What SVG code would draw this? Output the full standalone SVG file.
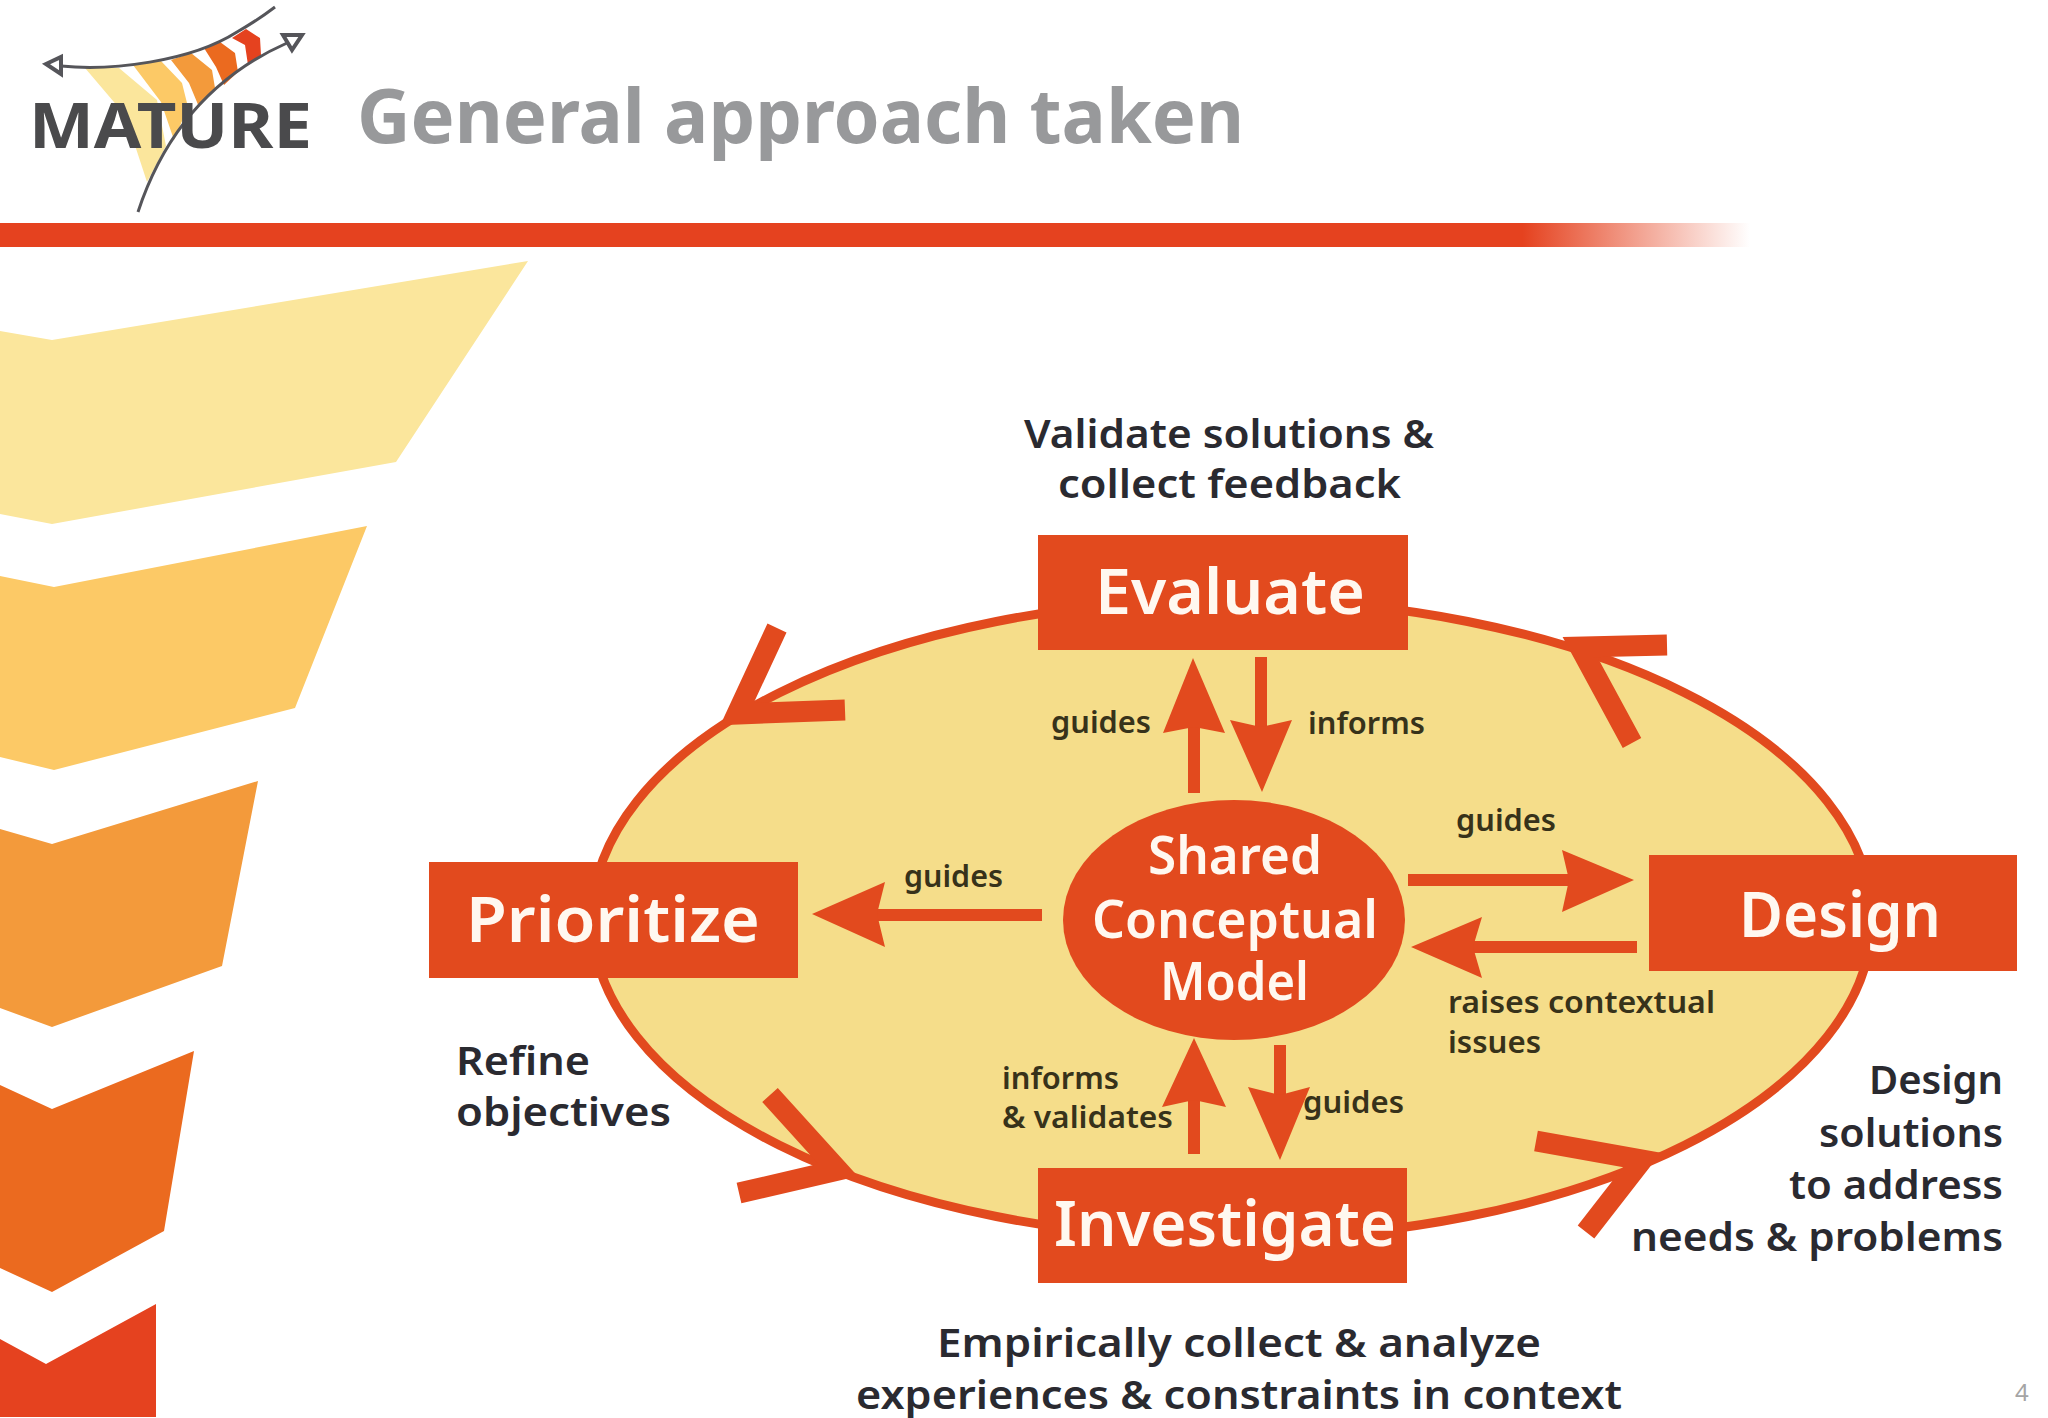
<svg xmlns="http://www.w3.org/2000/svg" width="2048" height="1418" viewBox="0 0 2048 1418">
<style>
text{font-family:"Noto Sans","DejaVu Sans",sans-serif}
.o{fill:#E24A1E}
.box{fill:#E24A1E}
.w{fill:#FFF8F0;font-weight:600}
.big{font-size:63px;text-anchor:start}
.cm{font-size:52px}
.lab{fill:#2A2A30;font-size:39px;font-weight:600}
.sm{fill:#37321A;font-size:30px;font-weight:600}
.barb{stroke:#E24A1E;stroke-width:21;fill:none;stroke-linejoin:miter;stroke-miterlimit:10}
.shaft{stroke:#E24A1E;stroke-width:12;fill:none}
.lg{fill:none;stroke:#55555a;stroke-width:3}
.lt{fill:none;stroke:#55555a;stroke-width:4}
</style>
<defs>
<linearGradient id="barG" x1="0" x2="1750" y1="0" y2="0" gradientUnits="userSpaceOnUse">
<stop offset="0" stop-color="#E5421F"/><stop offset="0.87" stop-color="#E5421F"/><stop offset="1" stop-color="#E5421F" stop-opacity="0"/>
</linearGradient>
</defs>
<rect width="2048" height="1418" fill="#fff"/>

<g id="logo">
<polygon points="85,68 119,68 157,100 166,146 147,182 125,115" fill="#FBE69C"/>
<polygon points="133,65 161,61 182,83 188,107 174,140 161,102" fill="#FCC966"/>
<polygon points="171,60 191,53 212,70 215,88 199,107 189,83" fill="#F39A3B"/>
<polygon points="204,48 220,42 235,53 238,72 224,85 216,67" fill="#EB6A1F"/>
<polygon points="232,38 246,29 260,38 261,55 248,65 245,45" fill="#E5421F"/>
<path class="lg" d="M61,66 C110,71 190,62 237,32 Q258,20 275,7"/>
<path class="lg" d="M138,212 C165,130 215,75 287,43"/>
<polygon class="lt" points="46,64 61,57 61,74"/>
<polygon class="lt" points="283,35 302,35 292,50"/>
<text x="29" y="148" font-size="63" font-weight="700" fill="#4A4A4C" textLength="283" lengthAdjust="spacingAndGlyphs">MATURE</text>
</g>
<text id="title" x="357" y="143" font-size="76" font-weight="700" fill="#98999B" textLength="887" lengthAdjust="spacingAndGlyphs">General approach taken</text>
<rect id="bar" x="0" y="223" width="1750" height="24" fill="url(#barG)"/>

<g id="chevrons">
<polygon points="0,331 52,340 528,261 396,462 52,524 0,514" fill="#FBE69C"/>
<polygon points="0,576 54,587 367,526 295,708 54,770 0,757" fill="#FCC966"/>
<polygon points="0,829 52,844 258,781 222,966 52,1027 0,1008" fill="#F39A3B"/>
<polygon points="0,1085 52,1109 194,1051 164,1231 52,1292 0,1268" fill="#EB6A1F"/>
<polygon points="0,1339 46,1364 156,1304 156,1417 0,1417" fill="#E5421F"/>
</g>

<g id="cycle">
<ellipse cx="1232" cy="919" rx="640" ry="320" fill="#F5DD8A" stroke="#E24A1E" stroke-width="9"/>
</g>

<g id="connectors">
<path class="barb" d="M777,628 L737,714 L845,710"/>
<path class="barb" d="M1667,645 L1580,647 L1632,743"/>
<path class="barb" d="M770,1095 L838,1170 L739,1193"/>
<path class="barb" d="M1536,1141 L1642,1160 L1586,1232"/>

<path class="shaft" d="M1194,720 V793"/><polygon class="o" points="1193,658 1225,733 1194,727 1163,733"/>
<path class="shaft" d="M1261,657 V730"/><polygon class="o" points="1230,720 1261,727 1292,720 1262,792"/>
<path class="shaft" d="M1408,880 H1575"/><polygon class="o" points="1634,880 1562,850 1569,880 1562,912"/>
<path class="shaft" d="M1637,947 H1470"/><polygon class="o" points="1411,947 1482,917 1473,947 1482,978"/>
<path class="shaft" d="M1042,915 H875"/><polygon class="o" points="812,914 885,882 877,914 885,947"/>
<path class="shaft" d="M1194,1100 V1154"/><polygon class="o" points="1194,1038 1226,1107 1194,1100 1162,1107"/>
<path class="shaft" d="M1280,1045 V1100"/><polygon class="o" points="1248,1087 1280,1095 1310,1087 1280,1160"/>
</g>

<g id="evaluate"><rect class="box" x="1038" y="535" width="370" height="115"/><text class="w big" x="1095" y="614" textLength="270" lengthAdjust="spacingAndGlyphs">Evaluate</text></g>
<g id="prioritize"><rect class="box" x="429" y="862" width="369" height="116"/><text class="w big" x="466" y="942" textLength="294" lengthAdjust="spacingAndGlyphs">Prioritize</text></g>
<g id="design"><rect class="box" x="1649" y="855" width="368" height="116"/><text class="w big" x="1739" y="937" textLength="202" lengthAdjust="spacingAndGlyphs">Design</text></g>
<g id="investigate"><rect class="box" x="1038" y="1168" width="369" height="115"/><text class="w big" x="1054" y="1246" textLength="342" lengthAdjust="spacingAndGlyphs">Investigate</text></g>
<g id="model"><ellipse class="box" cx="1234" cy="920" rx="171" ry="120"/>
<text class="w cm" x="1148" y="874" textLength="174" lengthAdjust="spacingAndGlyphs">Shared</text>
<text class="w cm" x="1092" y="938" textLength="286" lengthAdjust="spacingAndGlyphs">Conceptual</text>
<text class="w cm" x="1160" y="1000" textLength="149" lengthAdjust="spacingAndGlyphs">Model</text></g>

<g id="labels">
<text class="lab" x="1024" y="448" textLength="410" lengthAdjust="spacingAndGlyphs">Validate solutions &amp;</text>
<text class="lab" x="1058" y="498" textLength="343" lengthAdjust="spacingAndGlyphs">collect feedback</text>
<text class="lab" x="456" y="1075" textLength="134" lengthAdjust="spacingAndGlyphs">Refine</text>
<text class="lab" x="456" y="1126" textLength="215" lengthAdjust="spacingAndGlyphs">objectives</text>
<text class="lab" x="1869" y="1094" textLength="134" lengthAdjust="spacingAndGlyphs">Design</text>
<text class="lab" x="1819" y="1147" textLength="184" lengthAdjust="spacingAndGlyphs">solutions</text>
<text class="lab" x="1789" y="1199" textLength="214" lengthAdjust="spacingAndGlyphs">to address</text>
<text class="lab" x="1631" y="1251" textLength="372" lengthAdjust="spacingAndGlyphs">needs &amp; problems</text>
<text class="lab" x="937" y="1357" textLength="604" lengthAdjust="spacingAndGlyphs">Empirically collect &amp; analyze</text>
<text class="lab" x="856" y="1409" textLength="766" lengthAdjust="spacingAndGlyphs">experiences &amp; constraints in context</text>
<text class="sm" x="1051" y="733" textLength="100" lengthAdjust="spacingAndGlyphs">guides</text>
<text class="sm" x="1308" y="734" textLength="117" lengthAdjust="spacingAndGlyphs">informs</text>
<text class="sm" x="1456" y="831" textLength="100" lengthAdjust="spacingAndGlyphs">guides</text>
<text class="sm" x="904" y="887" textLength="99" lengthAdjust="spacingAndGlyphs">guides</text>
<text class="sm" x="1448" y="1013" textLength="267" lengthAdjust="spacingAndGlyphs">raises contextual</text>
<text class="sm" x="1448" y="1053" textLength="93" lengthAdjust="spacingAndGlyphs">issues</text>
<text class="sm" x="1002" y="1089" textLength="117" lengthAdjust="spacingAndGlyphs">informs</text>
<text class="sm" x="1002" y="1128" textLength="171" lengthAdjust="spacingAndGlyphs">&amp; validates</text>
<text class="sm" x="1303" y="1113" textLength="101" lengthAdjust="spacingAndGlyphs">guides</text>
</g>
<text id="page" x="2015" y="1401" font-size="24" fill="#A5A5A5">4</text>
</svg>
